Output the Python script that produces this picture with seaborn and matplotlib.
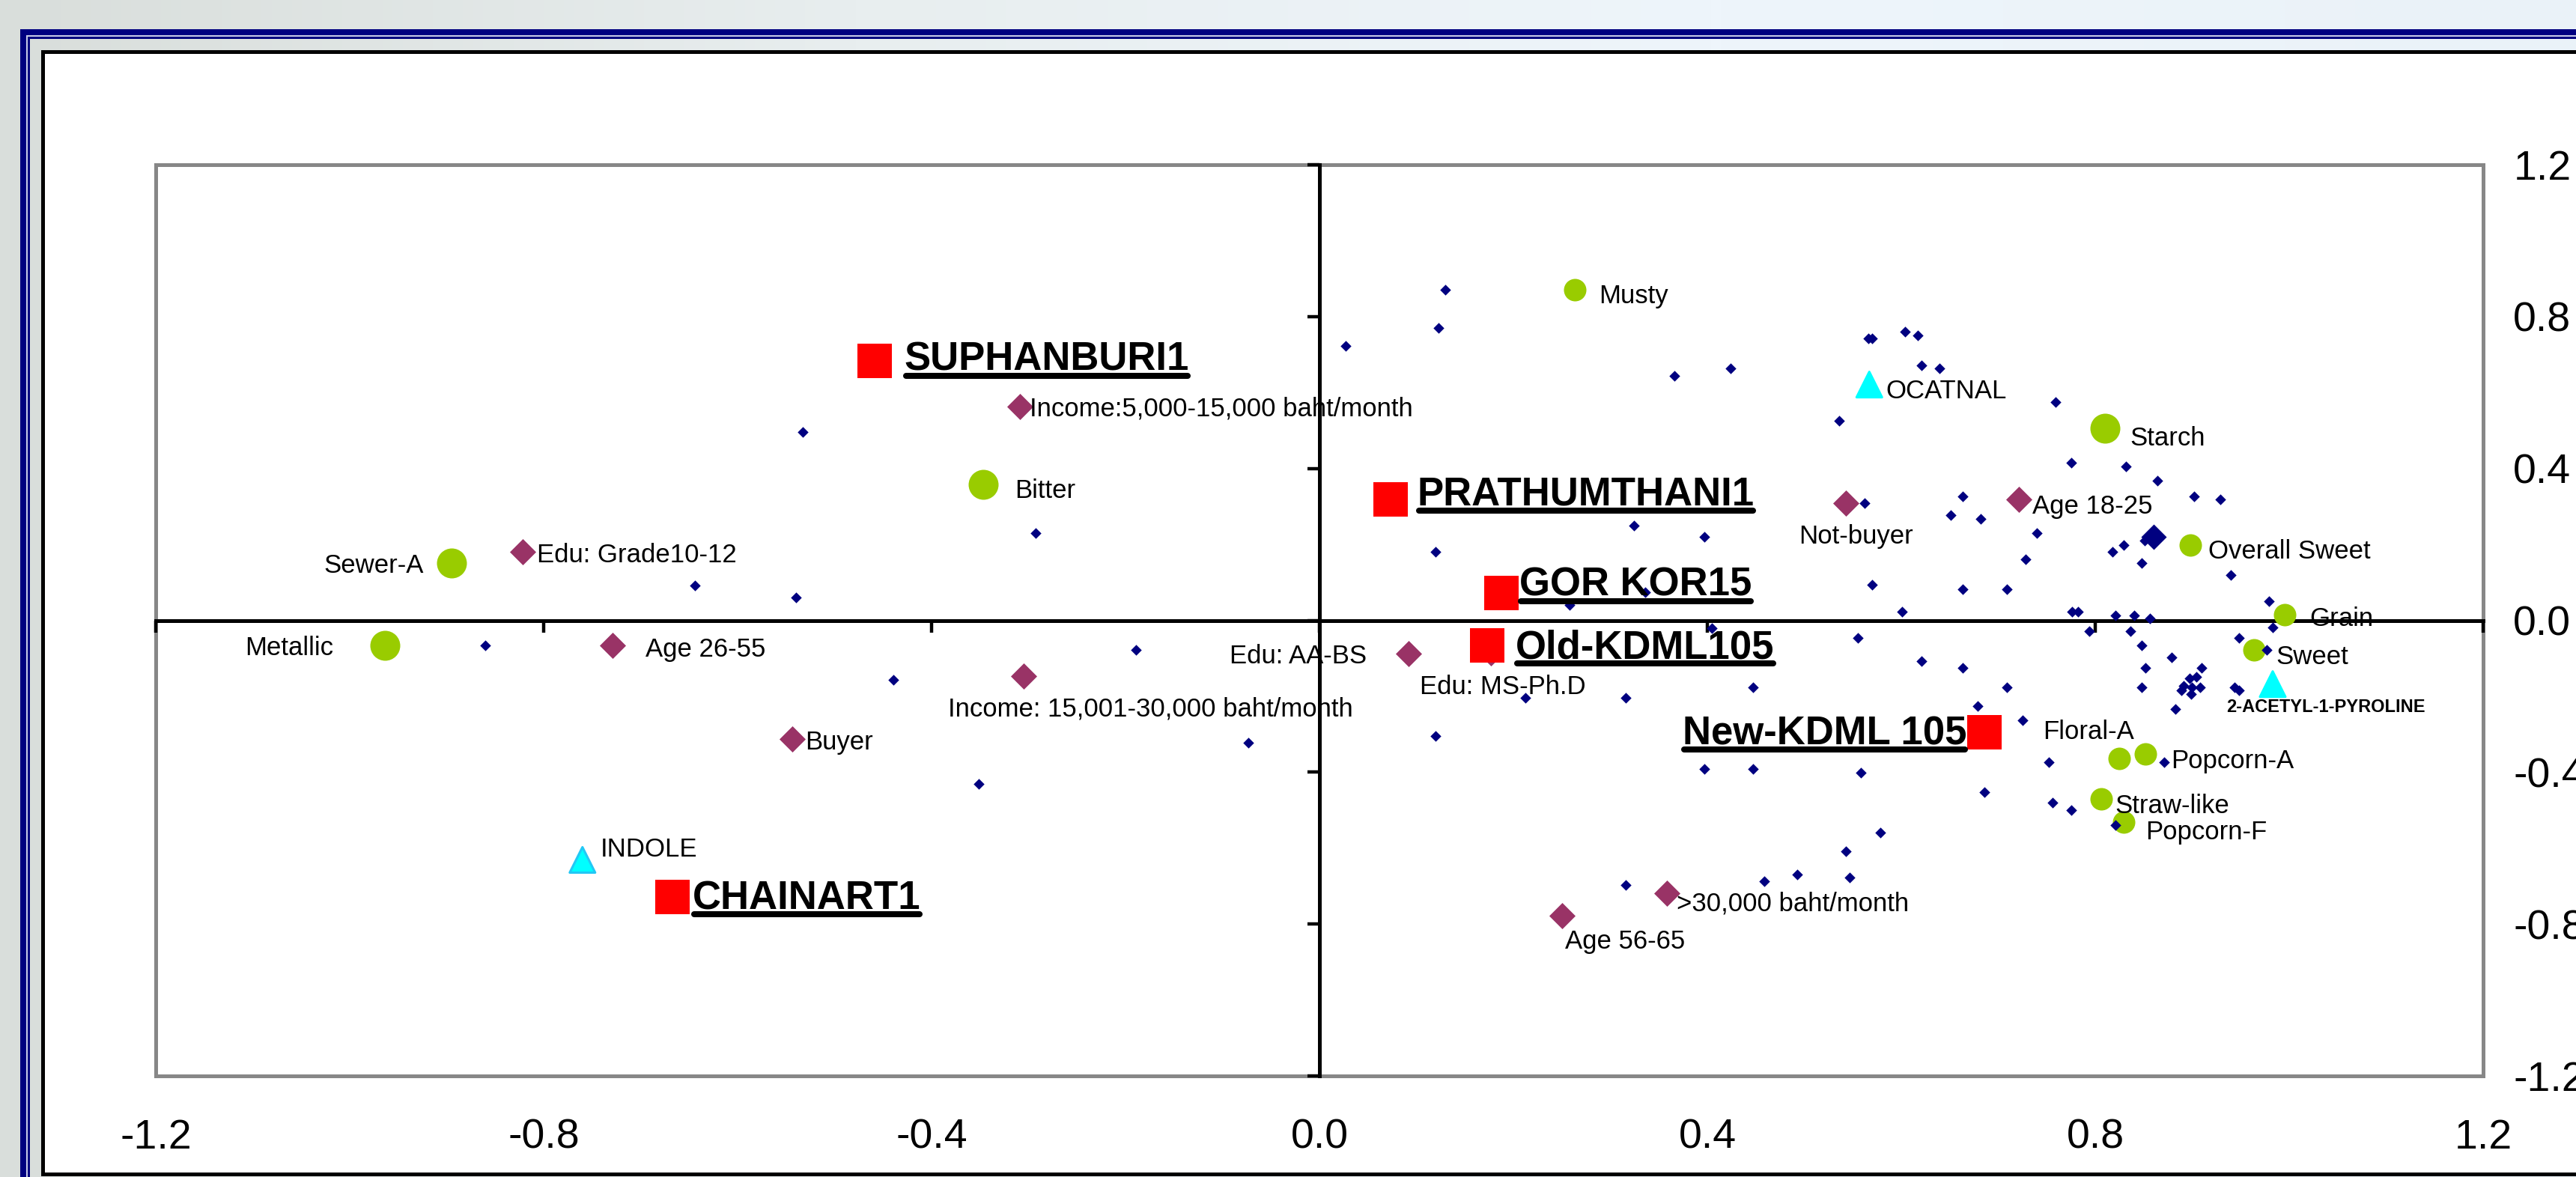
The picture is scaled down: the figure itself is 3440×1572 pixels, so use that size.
import numpy as np
import matplotlib
matplotlib.use("Agg")
import matplotlib.pyplot as plt
import seaborn as sns
from matplotlib.patches import Rectangle
from matplotlib.lines import Line2D
from matplotlib.transforms import IdentityTransform
from matplotlib.colors import LinearSegmentedColormap

# ------------------------------------------------------------------ data
variety_names = ["SUPHANBURI1", "PRATHUMTHANI1", "GOR KOR15", "Old-KDML105", "New-KDML 105", "CHAINART1"]
variety_x = [-0.459, 0.073, 0.188, 0.173, 0.686, -0.667]
variety_y = [0.683, 0.318, 0.071, -0.066, -0.294, -0.728]

sensory_major_names = ["Starch", "Bitter", "Sewer-A", "Metallic"]
sensory_major_x = [0.810, -0.347, -0.895, -0.964]
sensory_major_y = [0.505, 0.357, 0.150, -0.066]

sensory_names = ["Musty", "Overall Sweet", "Grain", "Sweet", "Floral-A", "Popcorn-A", "Straw-like", "Popcorn-F"]
sensory_x = [0.263, 0.898, 0.995, 0.964, 0.825, 0.852, 0.806, 0.829]
sensory_y = [0.870, 0.199, 0.014, -0.077, -0.363, -0.352, -0.471, -0.532]

consumer_names = ["Income:5,000-15,000 baht/month", "Edu: Grade10-12", "Not-buyer", "Age 18-25",
                  "Age 26-55", "Income: 15,001-30,000 baht/month", "Buyer", "Edu: AA-BS",
                  "Edu: MS-Ph.D", ">30,000 baht/month", "Age 56-65"]
consumer_x = [-0.309, -0.822, 0.543, 0.721, -0.729, -0.305, -0.544, 0.092, 0.177, 0.358, 0.250]
consumer_y = [0.564, 0.180, 0.308, 0.318, -0.067, -0.146, -0.313, -0.087, -0.085, -0.718, -0.777]

compound_names = ["OCATNAL", "INDOLE", "2-ACETYL-1-PYROLINE"]
compound_x = [0.567, -0.760, 0.983]
compound_y = [0.621, -0.631, -0.168]

panelist_x = [-0.644, -0.533, -0.293, -0.540, -0.860, -0.439, -0.189, -0.351, -0.073,
              0.130, 0.123, 0.027, 0.366, 0.424, 0.566, 0.570, 0.604, 0.617, 0.621, 0.639,
              0.536, 0.759, 0.562, 0.324, 0.397, 0.120, 0.570, 0.601, 0.336, 0.258,
              0.775, 0.832, 0.864, 0.902, 0.929, 0.663, 0.651, 0.682, 0.740, 0.851,
              0.829, 0.818, 0.728, 0.848, 0.940, 0.663, 0.709, 0.979, 0.776, 0.782,
              0.821, 0.840, 0.856, 0.212, 0.316, 0.447, 0.555, 0.405, 0.120, 0.397,
              0.447, 0.558, 0.578, 0.543, 0.493, 0.547, 0.459, 0.316, 0.794, 0.836,
              0.848, 0.948, 0.983, 0.977, 0.879, 0.621, 0.663, 0.852, 0.910, 0.904,
              0.897, 0.891, 0.900, 0.908, 0.889, 0.899, 0.709, 0.848, 0.944, 0.948,
              0.679, 0.883, 0.725, 0.752, 0.871, 0.686, 0.756, 0.775, 0.821]
panelist_y = [0.091, 0.495, 0.229, 0.061, -0.067, -0.156, -0.077, -0.431, -0.323,
              0.870, 0.771, 0.722, 0.643, 0.663, 0.742, 0.742, 0.760, 0.751, 0.672, 0.663,
              0.525, 0.574, 0.308, 0.249, 0.219, 0.180, 0.093, 0.022, 0.073, 0.041,
              0.416, 0.406, 0.367, 0.327, 0.318, 0.327, 0.278, 0.268, 0.229, 0.211,
              0.199, 0.180, 0.160, 0.150, 0.120, 0.081, 0.081, 0.051, 0.022, 0.022,
              0.012, 0.012, 0.004, -0.205, -0.205, -0.176, -0.047, -0.020, -0.304, -0.392,
              -0.392, -0.402, -0.560, -0.609, -0.669, -0.678, -0.688, -0.698, -0.028, -0.028,
              -0.067, -0.047, -0.018, -0.077, -0.097, -0.107, -0.126, -0.126, -0.126, -0.148,
              -0.152, -0.172, -0.176, -0.176, -0.185, -0.195, -0.176, -0.176, -0.176, -0.185,
              -0.225, -0.234, -0.264, -0.373, -0.373, -0.452, -0.480, -0.499, -0.540]
cluster_x = [0.860]
cluster_y = [0.219]

tick_values = [-1.2, -0.8, -0.4, 0.0, 0.4, 0.8, 1.2]
tick_labels = ["-1.2", "-0.8", "-0.4", "0.0", "0.4", "0.8", "1.2"]

# ------------------------------------------------------------------ label layout (pixel offsets: +x right, +y down)
label_layout = {
    "SUPHANBURI1": (40, -7, "left"), "PRATHUMTHANI1": (36, -12, "left"), "GOR KOR15": (24, -16, "left"),
    "Old-KDML105": (38, -2, "left"), "New-KDML 105": (-24, -3, "right"), "CHAINART1": (27, -3, "left"),
    "Starch": (33, 10, "left"), "Bitter": (42, 5, "left"), "Sewer-A": (-37, 0, "right"),
    "Metallic": (-68, 0, "right"), "Musty": (33, 5, "left"), "Overall Sweet": (24, 5, "left"),
    "Grain": (34, 2, "left"), "Sweet": (29, 6, "left"), "Floral-A": (-102, -39, "left"),
    "Popcorn-A": (34, 6, "left"), "Straw-like": (19, 6, "left"), "Popcorn-F": (30, 10, "left"),
    "Income:5,000-15,000 baht/month": (13, 0, "left"), "Edu: Grade10-12": (19, 1, "left"),
    "Not-buyer": (13, 41, "center"), "Age 18-25": (18, 6, "left"), "Age 26-55": (44, 2, "left"),
    "Income: 15,001-30,000 baht/month": (-101, 41, "left"), "Buyer": (18, 1, "left"),
    "Edu: AA-BS": (-56, 0, "right"), "Edu: MS-Ph.D": (16, 42, "center"),
    ">30,000 baht/month": (13, 11, "left"), "Age 56-65": (4, 31, "left"),
    "OCATNAL": (22, 5, "left"), "INDOLE": (24, -17, "left"), "2-ACETYL-1-PYROLINE": (-62, 28, "left"),
}

W, H = 3441, 1572
sns.set_style("white")
plt.rcParams["font.family"] = ["Liberation Sans", "DejaVu Sans"]

fig = plt.figure(figsize=(W / 100, H / 100), dpi=100)
fig.patch.set_facecolor("#EAF1F7")

# background gradient
bg = fig.add_axes([0, 0, 1, 1], zorder=-10)
bg.axis("off")
cmap_bg = LinearSegmentedColormap.from_list("bg", ["#D9DEDB", "#E8EEEF", "#EEF5FB", "#EAF2F8"])
bg.imshow(np.linspace(0, 1, 512)[None, :], cmap=cmap_bg, aspect="auto", extent=[0, 1, 0, 1])


def frame_rect(x0, y0, x1, y1, color, z=-5):
    fig.add_artist(Rectangle((x0 / W, 1 - y1 / H), (x1 - x0) / W, (y1 - y0) / H,
                             transform=fig.transFigure, facecolor=color, edgecolor="none", zorder=z))


frame_rect(27, 39, W, 47, "#000080")
frame_rect(27, 39, 35, H, "#000080")
frame_rect(35, 47, W, 49, "#C8CCE8")
frame_rect(35, 47, 37, H, "#C8CCE8")
frame_rect(37, 49, W, 52, "#000080")
frame_rect(37, 49, 40, H, "#000080")
frame_rect(55, 67, W, 1571, "#000000")
frame_rect(60, 72, W, 1566, "#FFFFFF")

rect = [208 / W, 1 - 1437 / H, (3316 - 208) / W, (1437 - 220) / H]

# tick-label axes (outer labels)
ax_lab = fig.add_axes(rect, zorder=-1)
ax_lab.set_xlim(-1.2, 1.2)
ax_lab.set_ylim(-1.2, 1.2)
ax_lab.patch.set_visible(False)
for sp in ax_lab.spines.values():
    sp.set_visible(False)
ax_lab.set_xticks(tick_values)
ax_lab.set_xticklabels(tick_labels)
ax_lab.set_yticks(tick_values)
ax_lab.set_yticklabels(tick_labels)
ax_lab.yaxis.tick_right()
ax_lab.tick_params(length=0, labelsize=40, colors="black")
ax_lab.tick_params(axis="x", pad=41)
ax_lab.tick_params(axis="y", pad=29)

# main axes
ax = fig.add_axes(rect, zorder=0)
ax.set_facecolor("white")
ax.set_xlim(-1.2, 1.2)
ax.set_ylim(-1.2, 1.2)
ax.add_patch(Rectangle((0, 0), 1, 1, transform=ax.transAxes, fill=False, edgecolor="#878787",
                       linewidth=3.6, clip_on=False, zorder=0.5))
for s in ["top", "right"]:
    ax.spines[s].set_visible(False)
for s in ["left", "bottom"]:
    ax.spines[s].set_position(("data", 0))
    ax.spines[s].set_color("black")
    ax.spines[s].set_linewidth(3.6)
    ax.spines[s].set_zorder(1)
ax.set_xticks(tick_values)
ax.set_yticks(tick_values)
ax.tick_params(axis="both", direction="out", length=11.5, width=3.2, color="black",
               labelbottom=False, labelleft=False, bottom=True, left=True)

sns.scatterplot(x=sensory_major_x, y=sensory_major_y, ax=ax, marker="o", s=829, color="#99CC00",
                linewidth=0, legend=False, zorder=3)
sns.scatterplot(x=sensory_x, y=sensory_y, ax=ax, marker="o", s=467, color="#99CC00",
                linewidth=0, legend=False, zorder=3)
sns.scatterplot(x=consumer_x, y=consumer_y, ax=ax, marker="D", s=318, color="#993366",
                linewidth=0, legend=False, zorder=4)
sns.scatterplot(x=panelist_x, y=panelist_y, ax=ax, marker="D", s=54, color="#000080",
                linewidth=0, legend=False, zorder=5)
sns.scatterplot(x=cluster_x, y=cluster_y, ax=ax, marker="D", s=300, color="#000080",
                linewidth=0, legend=False, zorder=5)
compound_edges = ["#00FFFF" if n != "INDOLE" else "#22C8F5" for n in compound_names]
sns.scatterplot(x=compound_x, y=compound_y, ax=ax, marker="^", s=600, color="#00FFFF",
                edgecolor=compound_edges, linewidth=2.2, legend=False, zorder=6)
sns.scatterplot(x=variety_x, y=variety_y, ax=ax, marker="s", s=1050, color="#FF0000",
                linewidth=0, legend=False, zorder=7)
ax.set_xlabel("")
ax.set_ylabel("")


def put_label(name, x, y, size=25, weight="normal"):
    dx, dy, ha = label_layout[name]
    return ax.annotate(name, (x, y), xytext=(dx * 0.72, -dy * 0.72), textcoords="offset points",
                       ha=ha, va="center_baseline", fontsize=size, fontweight=weight,
                       color="black", zorder=10, annotation_clip=False)


variety_texts = [put_label(n, x, y, size=38, weight="bold")
                 for n, x, y in zip(variety_names, variety_x, variety_y)]
for n, x, y in zip(sensory_major_names, sensory_major_x, sensory_major_y):
    put_label(n, x, y)
for n, x, y in zip(sensory_names, sensory_x, sensory_y):
    put_label(n, x, y)
for n, x, y in zip(consumer_names, consumer_x, consumer_y):
    put_label(n, x, y)
for n, x, y in zip(compound_names, compound_x, compound_y):
    if n == "2-ACETYL-1-PYROLINE":
        put_label(n, x, y, size=17, weight="bold")
    else:
        put_label(n, x, y)

# underline the variety names
fig.canvas.draw()
renderer = fig.canvas.get_renderer()
for t in variety_texts:
    bb = t.get_window_extent(renderer)
    yu = bb.y0 + 4
    fig.add_artist(Line2D([bb.x0 + 2, bb.x1 - 2], [yu, yu], transform=IdentityTransform(),
                          color="black", linewidth=5.8, solid_capstyle="round", zorder=20))

fig.savefig("out.png", dpi=100, facecolor=fig.get_facecolor())
